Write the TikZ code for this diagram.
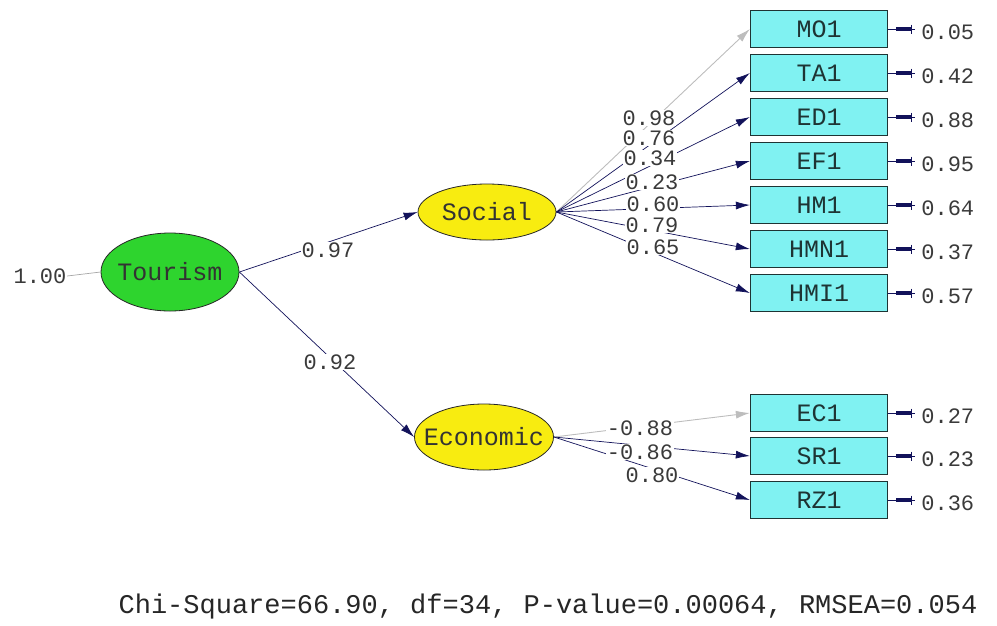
\documentclass[tikz,border=0pt]{standalone}
\usepackage{fontspec}
\setmainfont{Liberation Mono}
\usetikzlibrary{arrows.meta,shapes.geometric,calc}
\definecolor{navyc}{HTML}{12125A}
\definecolor{lblc}{HTML}{3A3A3A}
\definecolor{boxfill}{HTML}{80F2F2}
\definecolor{boxline}{HTML}{1E3434}
\definecolor{greenf}{HTML}{2ED42E}
\definecolor{yellowf}{HTML}{F8EC10}
\definecolor{greyarr}{HTML}{BDBDBD}
\begin{document}
\begin{tikzpicture}[x=1pt,y=-1pt,
  obs/.style={draw=boxline,line width=1.3pt,fill=boxfill,minimum width=137pt,minimum height=37pt,inner sep=0pt,text=boxline,font=\fontsize{25}{25}\selectfont},
  lat/.style={ellipse,draw=black!85,line width=0.8pt,minimum width=138pt,inner sep=0pt},
  lattext/.style={label={[text=black!80,font=\fontsize{25}{25}\selectfont,inner sep=0pt]center:#1}},
  lab/.style={fill=white,inner sep=0.6pt,text=lblc,font=\fontsize{22}{22}\selectfont},
  errlab/.style={anchor=west,inner sep=0pt,text=lblc,font=\fontsize{22}{22}\selectfont},
  path/.style={draw=navyc!80!black,line width=0.7pt,-{Latex[length=14pt,width=8pt]},color=navyc},
  gpath/.style={draw=greyarr,line width=0.9pt,-{Latex[length=14pt,width=8pt]}},
  errline/.style={draw=navyc,line width=0.9pt}]
\useasboundingbox (0,0) rectangle (997,625);

% latent variables
\node[lat,fill=greenf,minimum height=78pt,lattext=Tourism] (tour) at (170,272) {};
\node[lat,fill=yellowf,minimum height=56pt,lattext=Social] (soc) at (487,212) {};
\node[lat,fill=yellowf,minimum height=66pt,minimum width=139pt,lattext=Economic] (eco) at (484,437) {};

% observed variables
\node[obs] (mo) at (819,29) {MO1};
\node[obs] (ta) at (819,73) {TA1};
\node[obs] (ed) at (819,117) {ED1};
\node[obs] (ef) at (819,161) {EF1};
\node[obs] (hm) at (819,205) {HM1};
\node[obs] (hmn) at (819,249) {HMN1};
\node[obs] (hmi) at (819,293) {HMI1};
\node[obs] (ec) at (819,413) {EC1};
\node[obs] (sr) at (819,456) {SR1};
\node[obs] (rz) at (819,500) {RZ1};

% Tourism variance
\node[lab] (v1) at (40,276) {1.00};
\draw[draw=gray!70,line width=0.7pt] (v1.east) -- (tour.west);

% structural paths
\draw[path] (tour.east) -- (soc.west);
\draw[path] (tour.east) -- (eco.west);
\node[lab] (p1) at (328,250) {0.97};
\node[lab] (p2) at (330,362) {0.92};

% social indicators
\draw[gpath] (soc.east) -- (mo.west);
\draw[path] (soc.east) -- (ta.west);
\draw[path] (soc.east) -- (ed.west);
\draw[path] (soc.east) -- (ef.west);
\draw[path] (soc.east) -- (hm.west);
\draw[path] (soc.east) -- (hmn.west);
\draw[path] (soc.east) -- (hmi.west);
\node[lab] (s1) at (649,118) {0.98};
\node[lab] (s2) at (649,138) {0.76};
\node[lab] (s3) at (650,158) {0.34};
\node[lab] (s4) at (652,182) {0.23};
\node[lab] (s5) at (653,204) {0.60};
\node[lab] (s6) at (652,225) {0.79};
\node[lab] (s7) at (653,247) {0.65};

% economic indicators
\draw[gpath] (eco.east) -- (ec.west);
\draw[path] (eco.east) -- (sr.west);
\draw[path] (eco.east) -- (rz.west);
\node[lab] (e1) at (640,428) {-0.88};
\node[lab] (e2) at (640,452) {-0.86};
\node[lab] (e3) at (652,475) {0.80};

% error terms
\foreach \b/\v in {mo/0.05,ta/0.42,ed/0.88,ef/0.95,hm/0.64,hmn/0.37,hmi/0.57,ec/0.27,sr/0.23,rz/0.36}{
  \draw[errline] (\b.east) -- ++(27,0) coordinate (\b e);
  \draw[navyc,line width=4pt] ($(\b.east)+(8,0)$) -- ($(\b.east)+(23,0)$);
  \draw[navyc,line width=1.2pt] ($(\b e)+(-4,-4.5)$) -- ($(\b e)+(-4,4.5)$);
  \node[errlab] (\b l) at ($(\b.east)+(33,3)$) {\v};
}

% fit statistics
\node[inner sep=0pt,text=black!85,font=\fontsize{27}{27}\selectfont] (fit) at (548,607) {Chi-Square=66.90, df=34, P-value=0.00064, RMSEA=0.054};
\end{tikzpicture}
\end{document}
